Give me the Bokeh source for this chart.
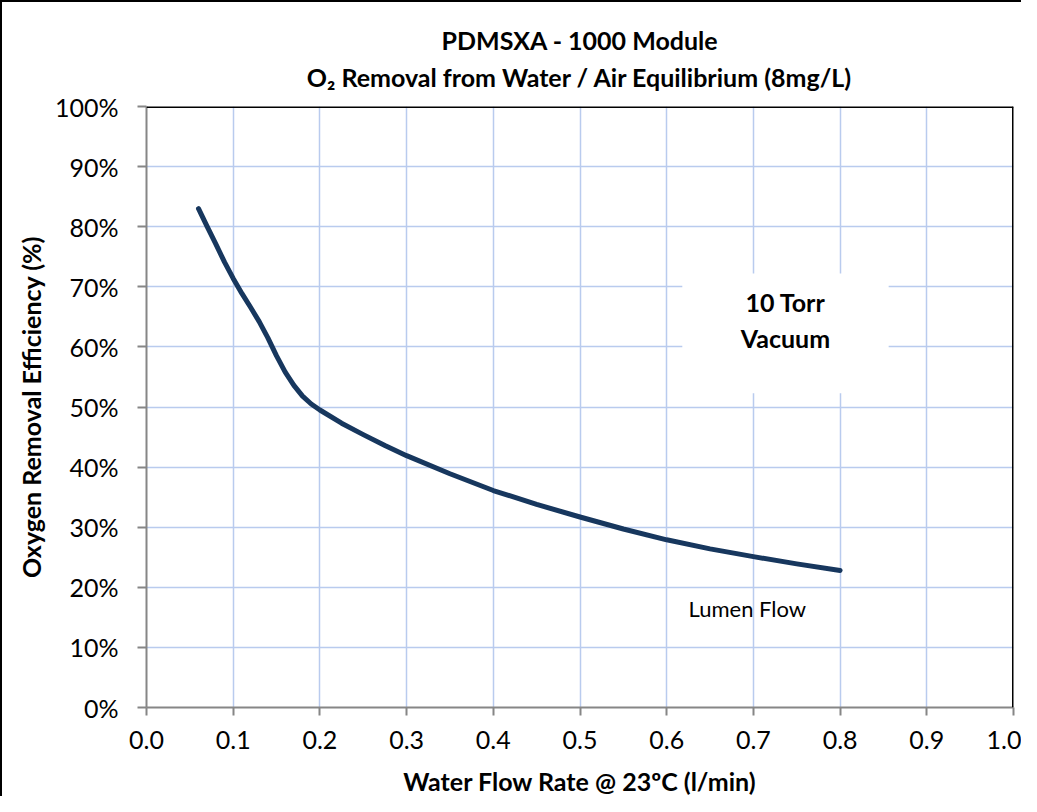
from bokeh.plotting import figure
from bokeh.models import (Title, Span, NumeralTickFormatter, FixedTicker, Label, Range1d)
from bokeh.embed import file_html
from bokeh.resources import INLINE

# ---- data ----
x_flow = [0.06, 0.07, 0.08, 0.09, 0.10, 0.11, 0.12, 0.13, 0.14, 0.15, 0.16, 0.17, 0.18, 0.19,
          0.20, 0.225, 0.25, 0.275, 0.30, 0.35, 0.40, 0.45, 0.50, 0.55, 0.60, 0.65, 0.70, 0.75, 0.80]
efficiency = [0.830, 0.800, 0.771, 0.741, 0.714, 0.689, 0.666, 0.642, 0.615, 0.585, 0.558, 0.536,
              0.518, 0.505, 0.495, 0.473, 0.454, 0.436, 0.419, 0.389, 0.361, 0.338, 0.317, 0.297,
              0.279, 0.264, 0.251, 0.239, 0.228]
x_ticks = [0.0, 0.1, 0.2, 0.3, 0.4, 0.5, 0.6, 0.7, 0.8, 0.9, 1.0]
y_ticks = [0.0, 0.1, 0.2, 0.3, 0.4, 0.5, 0.6, 0.7, 0.8, 0.9, 1.0]
title_line1 = "PDMSXA - 1000 Module"
title_line2 = "O\u2082 Removal from Water / Air Equilibrium (8mg/L)"
x_label = "Water Flow Rate @ 23\u00baC (l/min)"
y_label = "Oxygen Removal Efficiency (%)"
box_text = ["10 Torr", "Vacuum"]
series_label = "Lumen Flow"

FONT = "Lato"

p = figure(width=1021, height=796, output_backend="svg", toolbar_location=None,
           x_range=Range1d(0, 1), y_range=Range1d(0, 1),
           min_border_left=144, min_border_right=10, min_border_top=104, min_border_bottom=91)
p.background_fill_color = "white"
p.border_fill_color = "white"
p.outline_line_color = None
p.styles = {"border-left": "2px solid black", "border-top": "2px solid black"}

# titles: p.title is the upper line, the added Title sits next to the frame
p.title.text = title_line1
p.title.text_font = FONT
p.title.text_font_size = "25px"
p.title.text_font_style = "bold"
p.title.text_color = "black"
p.title.align = "center"
p.title.standoff = -20
t2 = Title(text=title_line2, text_font=FONT, text_font_size="25px", text_font_style="bold",
           text_color="black", align="center", standoff=30)
p.add_layout(t2, "above")

# axes
for ax in (p.xaxis[0], p.yaxis[0]):
    ax.axis_line_color = "#868686"
    ax.axis_line_width = 2
    ax.major_tick_line_color = "#868686"
    ax.major_tick_line_width = 2
    ax.major_tick_in = 0
    ax.minor_tick_line_color = None
    ax.major_label_text_font = FONT
    ax.major_label_text_font_size = "25px"
    ax.major_label_text_color = "black"
    ax.axis_label_text_font = FONT
    ax.axis_label_text_font_size = "25px"
    ax.axis_label_text_font_style = "bold"
    ax.axis_label_text_color = "black"

p.xaxis.ticker = FixedTicker(ticks=x_ticks)
p.yaxis.ticker = FixedTicker(ticks=y_ticks)
p.xaxis.formatter = NumeralTickFormatter(format="0.0")
p.yaxis.formatter = NumeralTickFormatter(format="0%")
p.xaxis.major_tick_out = 8
p.yaxis.major_tick_out = 9
p.xaxis.major_label_standoff = 15
p.yaxis.major_label_standoff = 19
p.xaxis.axis_label = x_label
p.yaxis.axis_label = y_label
p.xaxis.axis_label_standoff = 14
p.yaxis.axis_label_standoff = 6

# grid
p.xgrid.grid_line_color = "#b9cbee"
p.ygrid.grid_line_color = "#b9cbee"
p.xgrid.grid_line_width = 1.5
p.ygrid.grid_line_width = 1.5
p.xgrid.ticker = FixedTicker(ticks=x_ticks)
p.ygrid.ticker = FixedTicker(ticks=y_ticks)

# plot area top/right border
p.add_layout(Span(location=1.0, dimension="width", line_color="black", line_width=3))
p.add_layout(Span(location=1.0, dimension="height", line_color="black", line_width=3))

# curve
p.line(x_flow, efficiency, line_color="#17375E", line_width=5, line_cap="round", line_join="round")

# text box
p.quad(left=0.618, right=0.856, bottom=0.523, top=0.722, fill_color="white", line_color=None)

def lab(x, y, text, size="25px", style="bold"):
    p.add_layout(Label(x=x, y=y, text=text, text_font=FONT, text_font_size=size,
                       text_font_style=style, text_color="black",
                       text_align="center", text_baseline="middle"))

lab(0.737, 0.674, box_text[0])
lab(0.737, 0.615, box_text[1])
lab(0.693, 0.165, series_label, size="22px", style="normal")

open("out.html", "w").write(file_html(p, INLINE))
